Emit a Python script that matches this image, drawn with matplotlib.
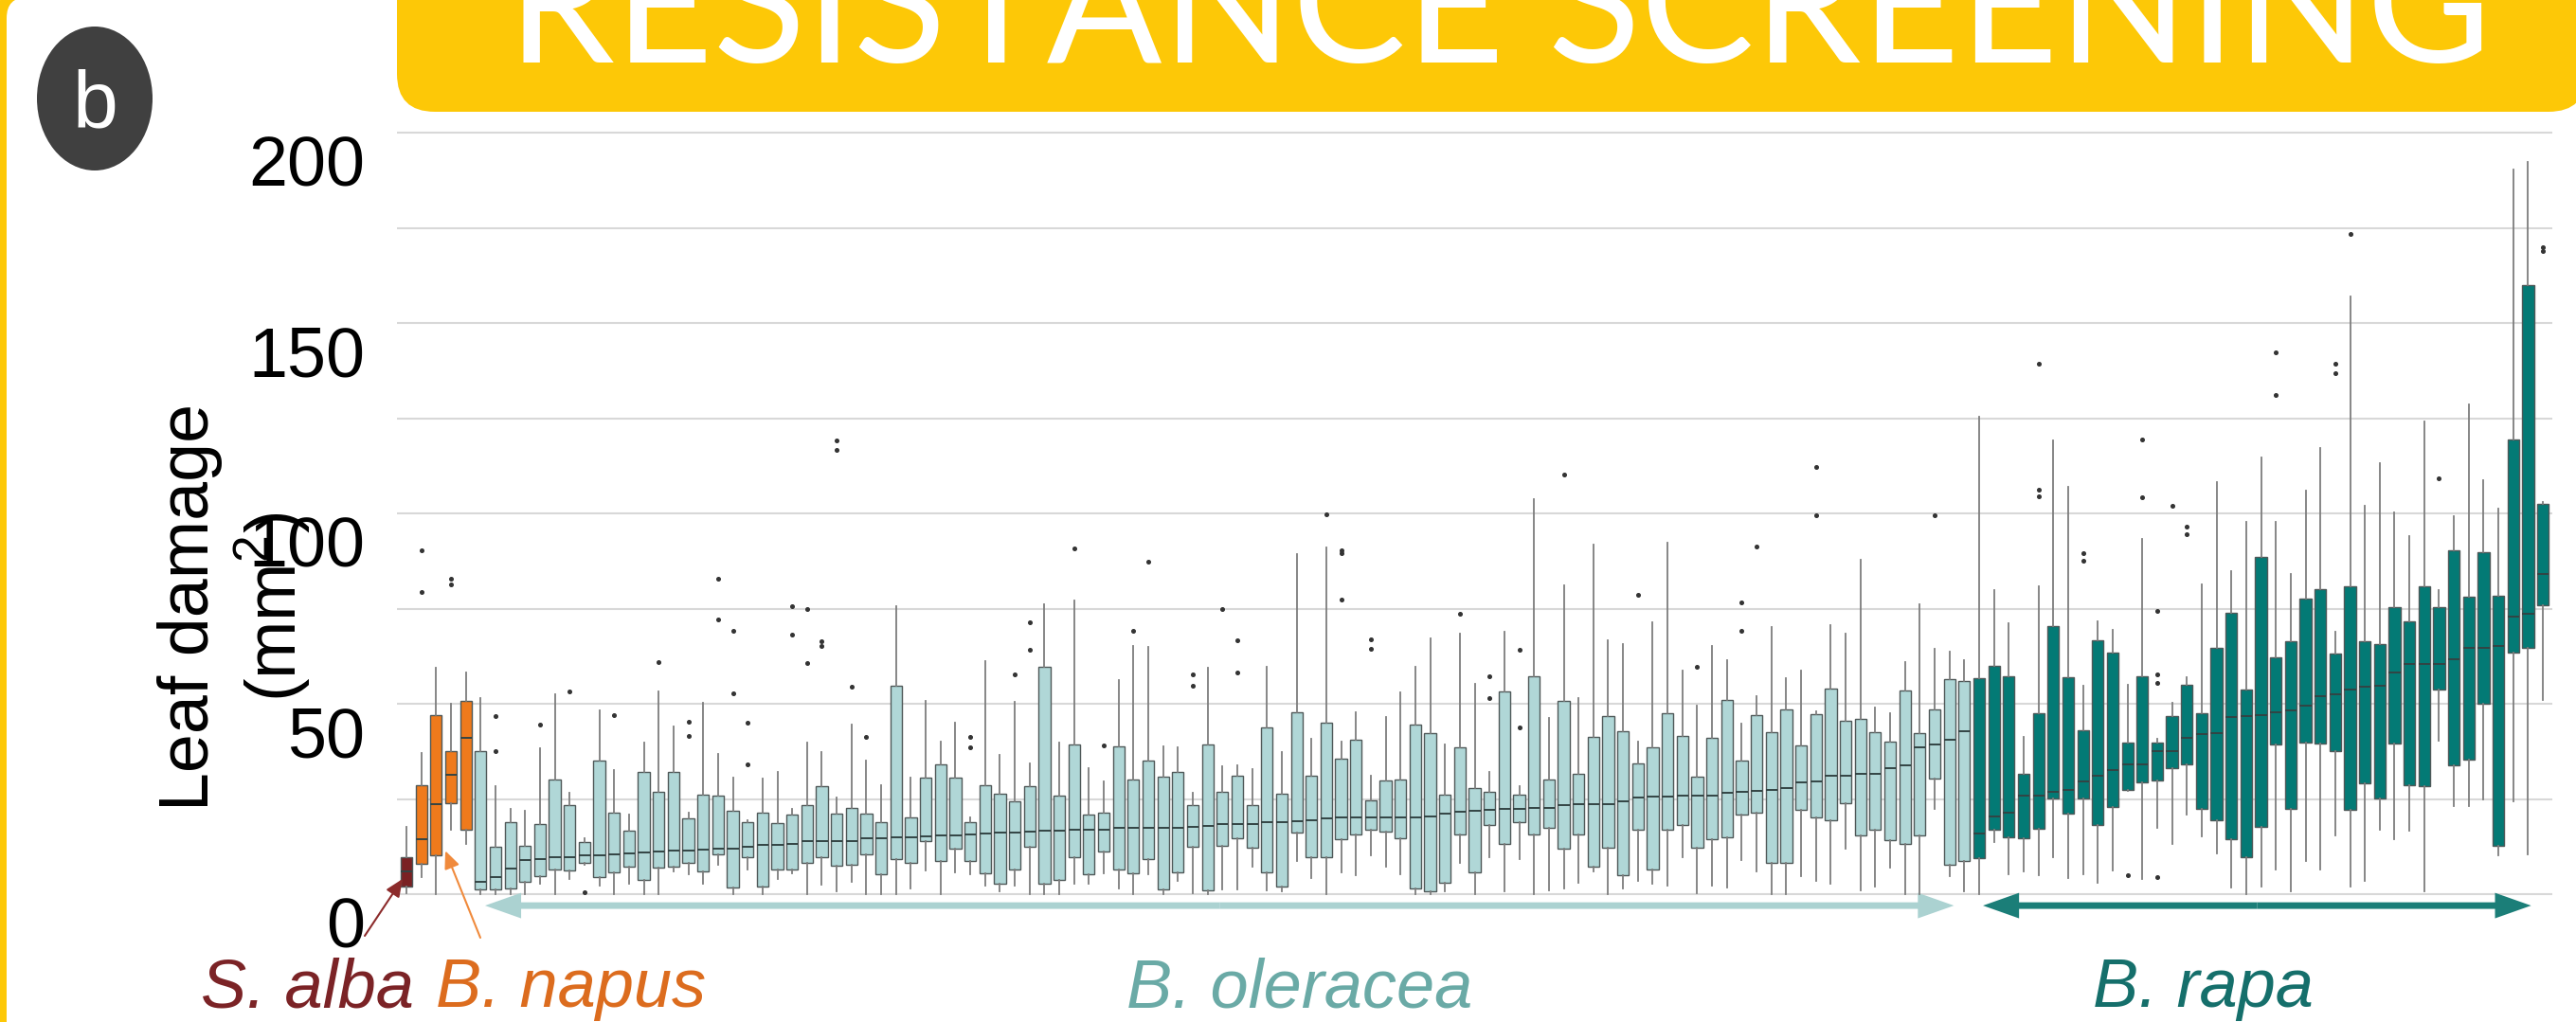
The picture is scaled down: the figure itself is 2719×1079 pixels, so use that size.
import numpy as np
import matplotlib.pyplot as plt
import matplotlib.transforms as mtransforms
from matplotlib.patches import Rectangle, FancyBboxPatch, Ellipse, FancyArrowPatch, ArrowStyle

plt.rcParams['font.family'] = ['Liberation Sans', 'DejaVu Sans']
plt.rcParams['mathtext.fontset'] = 'custom'
plt.rcParams['mathtext.rm'] = 'Liberation Sans'

W, H = 2719, 1079

# box stats per accession: (whisker low, q1, median, q3, whisker high)
alba = [(0.3, 1.9, 6.0, 9.8, 17.6)]
napus = [(4.4, 7.9, 14.4, 28.7, 37.1), (0, 10.1, 23.7, 47.0, 59.4),
         (17.0, 23.9, 31.4, 37.6, 49.9), (13.1, 16.9, 41.0, 50.8, 58.3)]
oleracea = [
    (0, 1.3, 3.3, 37.6, 51.6), (0, 1.3, 4.6, 12.5, 28.3), (0, 1.5, 6.7, 18.8, 22.5),
    (0, 3.2, 8.9, 12.7, 21.9), (2.7, 4.8, 9.2, 18.4, 38.3), (0, 6.6, 9.6, 30.2, 52.6),
    (4.0, 6.2, 9.8, 23.5, 26.6), (7.6, 8.3, 10.1, 13.7, 14.8), (2.3, 4.4, 10.1, 35.2, 48.2),
    (0, 5.8, 10.4, 21.4, 32.5), (2.7, 7.3, 10.6, 16.6, 21.0), (0, 3.8, 10.9, 32.2, 39.7),
    (0, 6.9, 11.1, 26.8, 53.2), (6.1, 7.3, 11.5, 32.2, 44.1), (5.2, 8.1, 11.5, 20.0, 21.4),
    (2.7, 6.1, 11.6, 26.2, 50.3), (7.7, 10.4, 11.9, 25.8, 36.8), (0, 1.7, 11.9, 22.0, 30.6),
    (6.6, 9.6, 12.5, 18.9, 19.5), (0, 1.9, 12.9, 21.4, 30.4), (4.0, 6.5, 13.0, 18.7, 32.0),
    (5.4, 6.5, 13.3, 21.0, 22.5), (0, 8.3, 13.9, 23.4, 39.7), (2.6, 9.8, 13.9, 28.3, 37.2),
    (0.8, 7.5, 13.9, 21.2, 25.3), (3.3, 7.7, 14.0, 22.7, 44.5), (0, 10.5, 14.8, 21.2, 35.0),
    (0, 5.2, 14.8, 18.9, 28.7), (0, 9.2, 15.0, 54.8, 75.6), (1.5, 8.3, 15.0, 20.2, 30.6),
    (6.2, 14.0, 15.2, 30.7, 50.7), (0, 8.8, 15.4, 34.2, 40.1), (5.7, 11.9, 15.4, 30.7, 45.1),
    (5.2, 8.6, 15.8, 18.9, 20.2), (2.3, 5.4, 15.9, 28.5, 61.3), (0.8, 2.7, 16.2, 26.3, 36.6),
    (2.3, 6.5, 16.3, 24.5, 50.4), (0, 12.5, 16.5, 28.3, 34.3), (0, 2.7, 16.7, 59.7, 76.1),
    (0, 3.7, 16.7, 26.0, 39.9), (2.7, 9.6, 17.0, 39.3, 77.1), (2.7, 5.2, 17.0, 21.0, 33.2),
    (5.4, 11.3, 17.0, 21.4, 29.7), (1.5, 6.5, 17.3, 38.9, 56.2), (0, 5.5, 17.3, 30.0, 65.3),
    (5.2, 9.2, 17.5, 35.2, 64.9), (0, 1.3, 17.5, 30.8, 38.9), (3.6, 5.8, 17.5, 32.1, 38.5),
    (0.2, 12.5, 17.7, 23.5, 26.6), (0, 1.1, 17.9, 39.3, 59.4), (1.2, 12.7, 18.4, 26.8, 33.7),
    (1.2, 14.8, 18.5, 31.2, 33.9), (7.1, 12.1, 18.5, 23.5, 32.8), (1.1, 5.7, 18.8, 43.9, 59.8),
    (0.7, 2.1, 18.8, 26.3, 37.2), (8.7, 16.3, 19.2, 47.8, 89.2), (4.2, 9.6, 19.4, 31.0, 40.8),
    (0, 9.6, 20.0, 45.1, 91.0), (5.7, 14.4, 20.2, 35.7, 40.1), (5.1, 15.6, 20.2, 40.6, 47.8),
    (10.1, 17.0, 20.2, 24.6, 31.2), (7.3, 16.5, 20.2, 29.9, 46.5), (5.2, 14.6, 20.2, 30.2, 53.0),
    (0, 1.5, 20.2, 44.5, 59.7), (0, 0.7, 20.4, 42.2, 67.3), (0.8, 2.9, 21.2, 26.2, 39.3),
    (8.1, 15.6, 21.6, 38.5, 68.4), (0, 5.7, 21.9, 27.9, 55.3), (9.8, 18.1, 22.1, 26.8, 32.0),
    (0.8, 13.1, 22.3, 53.2, 68.8), (9.2, 18.8, 22.3, 26.2, 28.3), (0, 15.6, 22.7, 57.3, 103.7),
    (1.1, 17.5, 22.7, 30.0, 46.2), (1.5, 11.9, 23.5, 50.8, 81.1), (2.9, 15.8, 23.7, 31.7, 51.6),
    (6.1, 7.3, 23.7, 41.4, 91.9), (0, 12.1, 23.7, 46.8, 66.6), (1.5, 5.0, 24.5, 42.8, 65.6),
    (3.6, 17.0, 25.3, 34.3, 40.1), (2.7, 6.6, 25.6, 38.6, 71.5), (2.3, 16.9, 25.6, 47.6, 92.2),
    (9.6, 18.1, 25.8, 41.5, 58.8), (0.2, 12.3, 26.0, 30.8, 49.4), (2.3, 14.4, 26.0, 41.1, 65.3),
    (1.7, 15.0, 26.7, 51.1, 61.5), (9.0, 20.9, 26.8, 35.2, 44.7), (6.1, 21.4, 27.1, 47.0, 52.0),
    (0, 8.3, 27.3, 42.6, 70.1), (0, 8.3, 27.8, 48.4, 56.8), (4.7, 22.1, 29.3, 39.1, 58.7),
    (3.6, 20.2, 29.5, 47.2, 48.0), (2.7, 19.4, 31.0, 54.1, 70.6), (12.0, 23.9, 31.2, 45.5, 68.4),
    (1.1, 15.4, 31.7, 46.1, 87.7), (2.1, 16.9, 31.7, 42.5, 48.9), (6.9, 14.1, 33.2, 40.0, 47.6),
    (0, 13.1, 33.9, 53.6, 60.9), (0, 15.5, 38.6, 42.2, 76.1), (22.4, 30.3, 39.3, 48.6, 64.5),
    (4.8, 7.7, 40.6, 56.6, 63.6), (0.7, 8.6, 42.8, 56.1, 61.5),
]
rapa = [
    (0, 9.5, 16.0, 56.8, 125.4), (13.8, 16.9, 20.3, 59.9, 79.8), (5.3, 15.0, 21.5, 57.3, 71.1),
    (5.9, 14.7, 25.8, 31.6, 41.4), (4.9, 17.1, 26.0, 47.5, 80.9), (9.8, 25.1, 26.8, 70.3, 119.1),
    (4.3, 21.2, 27.3, 57.0, 106.9), (5.3, 25.1, 29.7, 43.0, 54.7), (3.0, 18.2, 31.2, 66.8, 71.6),
    (6.2, 22.9, 32.5, 63.5, 69.4), (27.1, 27.3, 34.0, 39.7, 55.1), (3.9, 29.3, 34.2, 57.3, 93.2),
    (17.3, 29.9, 37.5, 39.8, 40.8), (13.2, 33.2, 37.5, 46.9, 50.3), (20.8, 34.0, 41.0, 55.1, 57.0),
    (15.1, 22.5, 42.1, 47.5, 81.4), (10.8, 19.3, 42.3, 64.8, 108.2), (1.7, 14.5, 46.6, 74.0, 84.8),
    (0, 9.8, 46.9, 53.8, 97.7), (2.1, 17.6, 47.0, 88.5, 114.7), (6.5, 39.2, 47.7, 62.2, 97.7),
    (0.8, 22.5, 48.2, 66.4, 84.1), (8.6, 39.8, 49.6, 77.6, 105.9), (6.5, 39.5, 52.1, 80.1, 117.3),
    (15.4, 37.5, 52.5, 63.3, 69.0), (2.1, 22.1, 53.8, 80.9, 156.9), (3.4, 29.0, 54.4, 66.4, 101.9),
    (16.9, 25.1, 54.7, 65.8, 113.3), (14.5, 39.5, 58.3, 75.3, 100.3), (16.7, 28.6, 60.5, 71.7, 94.1),
    (0.8, 28.4, 60.5, 80.9, 124.1), (40.4, 53.8, 60.5, 75.3, 79.8), (23.2, 33.9, 61.8, 90.2, 99.3),
    (23.2, 35.3, 64.8, 78.1, 128.6), (24.9, 49.9, 64.8, 89.8, 108.8), (10.2, 12.8, 65.1, 78.3, 101.3),
    (24.5, 63.5, 72.9, 119.5, 190.2), (10.4, 64.8, 73.6, 159.9, 192.2), (50.9, 75.9, 84.0, 102.6, 103.0),
]

# outliers, keyed by box index within each species
alba_out = {}
napus_out = {0: [90.2, 79.4], 2: [82.9, 81.3]}
oleracea_out = {
    1: [46.9, 37.5], 4: [44.5], 6: [53.2], 7: [0.5], 9: [47.0], 12: [60.9], 14: [45.3, 41.5],
    16: [82.9, 72.1], 17: [69.2, 52.8], 18: [45.1, 34.2], 21: [75.6, 68.2], 22: [74.9, 60.7],
    23: [66.5, 65.2], 24: [119.2, 116.8], 25: [54.4], 26: [41.4], 33: [41.2, 38.6], 36: [57.8],
    37: [71.3, 64.2], 40: [90.7], 42: [39.1], 44: [69.1], 45: [87.3], 48: [57.8, 54.7],
    50: [74.8], 51: [66.7, 58.2], 57: [99.7], 58: [90.4, 89.6, 77.4], 60: [66.9, 64.4],
    66: [73.6], 68: [57.3, 51.5], 70: [64.2, 43.9], 73: [110.1], 78: [78.6], 82: [59.8],
    85: [76.7, 69.1], 86: [91.4], 90: [112.2, 99.4], 98: [99.4],
}
rapa_out = {
    4: [139.4, 106.2, 104.4], 7: [89.6, 87.6], 10: [4.9], 11: [119.3, 104.2],
    12: [74.3, 57.7, 55.5, 4.6], 13: [101.9], 14: [96.5, 94.5], 20: [142.3, 131.2],
    24: [139.4, 136.8], 25: [173.3], 31: [109.1], 38: [169.9, 169.0],
}

species = ['S. alba', 'B. napus', 'B. oleracea', 'B. rapa']
yticks = [0, 50, 100, 150, 200]

fill_cols = ['#7a2123', '#ef7a1c', '#b0d7d7', '#037a75']
text_cols = ['#7b2326', '#dc6c1e', '#6aaaa6', '#156f6b']
YELLOW = '#fdc807'

fig = plt.figure(figsize=(W / 100, H / 100), dpi=100)
px = fig.dpi_scale_trans  # inches; 1 inch = 100 px here

# page decoration: yellow left edge, white rounded panel, title banner, badge
fig.patches.append(Rectangle((0, 0), 0.4, H / 100, color=YELLOW, transform=px, zorder=0))
fig.patches.append(FancyBboxPatch((0.07, -1.0), 30, H / 100 + 1.03,
                                  boxstyle='round,pad=0,rounding_size=0.22',
                                  fc='white', ec='none', transform=px, zorder=0))
fig.patches.append(FancyBboxPatch((4.19, (H - 118) / 100), (2730 - 419) / 100, 3.0,
                                  boxstyle='round,pad=0,rounding_size=0.40',
                                  fc=YELLOW, ec='none', transform=px, zorder=1))
fig.patches.append(Ellipse((1.00, (H - 104) / 100), 1.22, 1.52, fc='#404040', ec='none',
                           transform=px, zorder=1))
fig.text(100 / W, 1 - 134 / H, 'b', color='white', fontsize=62, ha='center', va='baseline')

title = fig.text(536 / W, 1 - 66 / H, 'RESISTANCE SCREENING', family='Lato', color='white',
                 fontsize=130, ha='left', va='baseline', zorder=2)
fig.canvas.draw()
tw = title.get_window_extent().width
title.set_fontsize(130 * (2627 - 536) / tw)

# main axes: box i sits at x = 429 + (i-1)*15.66 px, y = 0 at 944 px, 200 at 140 px
ax = fig.add_axes([419 / W, 122.9 / H, 2274.5 / W, 828.1 / H])
ax.set_zorder(3)
ax.patch.set_alpha(0)
ax.set_xlim(0.3616, 145.6)
ax.set_ylim(-3, 203)

stats, colors = [], []
for boxes, outs, col in zip([alba, napus, oleracea, rapa],
                            [alba_out, napus_out, oleracea_out, rapa_out], fill_cols):
    for i, (lo, q1, med, q3, hi) in enumerate(boxes):
        stats.append(dict(whislo=lo, q1=q1, med=med, q3=q3, whishi=hi, fliers=outs.get(i, [])))
        colors.append(col)

pos = np.arange(1, len(stats) + 1)
bp = ax.bxp(stats, positions=pos, widths=0.78, patch_artist=True, showcaps=False,
            boxprops=dict(edgecolor='#4f5858', linewidth=1.0),
            medianprops=dict(color='#334444', linewidth=1.4),
            whiskerprops=dict(color='#7d7d7d', linewidth=1.3),
            flierprops=dict(marker='o', markersize=2.6, markerfacecolor='#333333',
                            markeredgecolor='#333333'))
for patch, c in zip(bp['boxes'], colors):
    patch.set_facecolor(c)

ax.set_yticks(yticks)
ax.set_yticks(np.arange(0, 201, 25), minor=True)
ax.grid(axis='y', which='both', color='#d8d8d8', linewidth=1.5)
ax.set_axisbelow(True)
ax.set_xticks([])
for s in ax.spines.values():
    s.set_visible(False)
ax.tick_params(axis='y', which='both', length=0, pad=24.5, labelsize=53)
off = mtransforms.ScaledTranslation(0, -0.29, fig.dpi_scale_trans)
for lab in ax.get_yticklabels():
    lab.set_transform(lab.get_transform() + off)

fig.text(248 / W, 1 - 641 / H, 'Leaf damage\n(mm$^2$)', rotation=90, ha='center', va='center',
         fontsize=53, linespacing=1.15, zorder=4)

# species range arrows below the boxes
for x0, x1, c in [(6.3, 105.3, '#abd2d1'), (107.26, 144.2, '#1b7e78')]:
    mid = (x0 + x1) / 2
    for end in (x0, x1):
        ax.add_patch(FancyArrowPatch((mid, -3.0), (end, -3.0),
                                     arrowstyle=ArrowStyle.Simple(head_length=27.4, head_width=19.4,
                                                                  tail_width=5.0),
                                     mutation_scale=1, shrinkA=0, shrinkB=0, lw=0, color=c,
                                     clip_on=False))

# pointers from the small-group labels to their boxes
ax.annotate('', xy=(0.74, 4.0), xytext=(385, H - 988), textcoords='figure pixels',
            arrowprops=dict(arrowstyle='-|>,head_length=0.8,head_width=0.35', color='#8c2b2b',
                            lw=1.5, mutation_scale=14, shrinkA=0, shrinkB=0),
            annotation_clip=False)
ax.annotate('', xy=(3.62, 11.4), xytext=(507, H - 990), textcoords='figure pixels',
            arrowprops=dict(arrowstyle='-|>,head_length=0.8,head_width=0.35', color='#f08a3c',
                            lw=1.5, mutation_scale=14, shrinkA=0, shrinkB=0),
            annotation_clip=False)

label_y = 1 - 1063 / H
fig.text(212 / W, label_y, species[0], color=text_cols[0], style='italic', fontsize=52, va='baseline')
fig.text(460 / W, label_y, species[1], color=text_cols[1], style='italic', fontsize=52, va='baseline')
fig.text(1372 / W, label_y, species[2], color=text_cols[2], style='italic', fontsize=52,
         va='baseline', ha='center')
fig.text(2325 / W, label_y, species[3], color=text_cols[3], style='italic', fontsize=52,
         va='baseline', ha='center')

fig.savefig('out.png', dpi=100)
